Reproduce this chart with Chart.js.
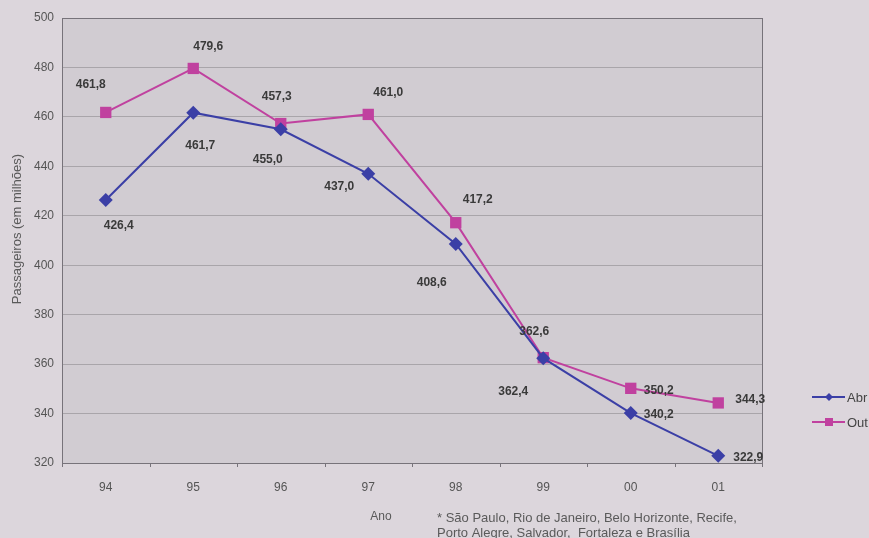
<!DOCTYPE html>
<html lang="pt">
<head>
  <meta charset="UTF-8" />
  <title>Passageiros</title>
  <script src="https://cdn.jsdelivr.net/npm/chart.js"></script>
  <style>
    html, body { margin: 0; padding: 0; background: #dcd6dc; overflow: hidden; }
    #wrap { position: relative; width: 869px; height: 538px; }
  </style>
</head>
<body>
  <div id="wrap"><canvas id="chart" width="869" height="538"></canvas></div>
  <script>
    const anos = ['94', '95', '96', '97', '98', '99', '00', '01'];
    const abril = [426.4, 461.7, 455.0, 437.0, 408.6, 362.4, 340.2, 322.9];
    const outubro = [461.8, 479.6, 457.3, 461.0, 417.2, 362.6, 350.2, 344.3];
    const yTicks = [320, 340, 360, 380, 400, 420, 440, 460, 480, 500];

    const AZUL = '#3b3fa6';
    const ROSA = '#c0419f';
    const FONT = '"Liberation Sans", Arial, sans-serif';

    // where each value label sits relative to its point
    const offAbr = [[13, 26], [7, 33], [-13, 30], [-29, 13], [-24, 39], [-30, 34], [28, 2], [30, 2]];
    const offOut = [[-15, -28], [15, -22], [-4, -27], [20, -22], [22, -23], [-9, -26], [28, 2], [32, -3]];

    const fmt = v => v.toFixed(1).replace('.', ',');

    const extras = {
      id: 'extras',
      beforeDraw(chart) {
        const { ctx, chartArea: a } = chart;
        ctx.save();
        ctx.fillStyle = '#d1ccd2';
        ctx.fillRect(a.left, a.top, a.right - a.left, a.bottom - a.top);
        ctx.restore();
      },
      afterDatasetsDraw(chart) {
        const { ctx, chartArea: a } = chart;
        ctx.save();
        ctx.strokeStyle = '#77737a';
        ctx.lineWidth = 1;
        ctx.strokeRect(a.left + 0.5, a.top + 0.5, a.right - a.left, a.bottom - a.top);

        // small ticks between years under the axis
        for (let i = 0; i <= anos.length; i++) {
          const x = Math.round(a.left + (a.right - a.left) * i / anos.length) + 0.5;
          ctx.beginPath();
          ctx.moveTo(x, a.bottom);
          ctx.lineTo(x, a.bottom + 4);
          ctx.stroke();
        }

        ctx.font = 'bold 12px ' + FONT;
        ctx.fillStyle = '#3a3a3a';
        ctx.textAlign = 'center';
        ctx.textBaseline = 'middle';
        [[0, offAbr], [1, offOut]].forEach(([di, offs]) => {
          const meta = chart.getDatasetMeta(di);
          meta.data.forEach((pt, i) => {
            const v = chart.data.datasets[di].data[i];
            ctx.fillText(fmt(v), pt.x + offs[i][0], pt.y + offs[i][1]);
          });
        });

        // axis titles and footnote
        ctx.fillStyle = '#5a5a5a';
        ctx.font = '12px ' + FONT;
        ctx.fillText('Ano', 381, 517);
        ctx.font = '13px ' + FONT;
        ctx.textAlign = 'left';
        ctx.fillText('* São Paulo, Rio de Janeiro, Belo Horizonte, Recife,', 437, 518);
        ctx.fillText('Porto Alegre, Salvador,  Fortaleza e Brasília', 437, 533);
        ctx.save();
        ctx.translate(17, 229);
        ctx.rotate(-Math.PI / 2);
        ctx.textAlign = 'center';
        ctx.font = '13px ' + FONT;
        ctx.fillText('Passageiros (em milhões)', 0, 0);
        ctx.restore();

        // legend
        const leg = [['Abr', AZUL, 'rectRot'], ['Out', ROSA, 'rect']];
        leg.forEach(([txt, col, shape], i) => {
          const y = 397 + i * 25;
          ctx.strokeStyle = col;
          ctx.lineWidth = 2;
          ctx.beginPath();
          ctx.moveTo(812, y);
          ctx.lineTo(845, y);
          ctx.stroke();
          ctx.fillStyle = col;
          if (shape === 'rect') ctx.fillRect(825, y - 4, 8, 8);
          else {
            ctx.beginPath();
            ctx.moveTo(829, y - 4); ctx.lineTo(833, y); ctx.lineTo(829, y + 4); ctx.lineTo(825, y);
            ctx.closePath(); ctx.fill();
          }
          ctx.fillStyle = '#444';
          ctx.font = '13px ' + FONT;
          ctx.textAlign = 'left';
          ctx.fillText(txt, 847, y + 1);
        });
        ctx.restore();
      }
    };

    new Chart(document.getElementById('chart'), {
      type: 'line',
      data: {
        labels: anos,
        datasets: [
          {
            label: 'Abr',
            data: abril,
            borderColor: AZUL,
            backgroundColor: AZUL,
            borderWidth: 2,
            pointStyle: 'rectRot',
            pointRadius: 7,
            pointBorderWidth: 0,
            tension: 0
          },
          {
            label: 'Out',
            data: outubro,
            borderColor: ROSA,
            backgroundColor: ROSA,
            borderWidth: 2,
            pointStyle: 'rect',
            pointRadius: 8,
            pointBorderWidth: 0,
            tension: 0
          }
        ]
      },
      options: {
        responsive: false,
        animation: false,
        layout: { padding: { left: 0, right: 107, top: 18, bottom: 0 } },
        plugins: { legend: { display: false }, tooltip: { enabled: false } },
        scales: {
          x: {
            offset: true,
            grid: { display: false },
            border: { display: false },
            ticks: { color: '#555', font: { family: FONT, size: 12 }, padding: 9 },
            afterFit(s) { s.height = 75; }
          },
          y: {
            min: 320,
            max: 500,
            afterBuildTicks(s) { s.ticks = yTicks.map(v => ({ value: v })); },
            grid: { color: '#a9a5aa', drawTicks: false },
            border: { display: false },
            ticks: { color: '#555', font: { family: FONT, size: 12 }, padding: 8 },
            afterFit(s) { s.width = 62; }
          }
        }
      },
      plugins: [extras]
    });
  </script>
</body>
</html>
